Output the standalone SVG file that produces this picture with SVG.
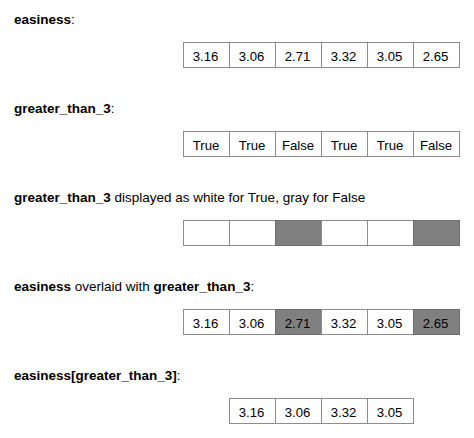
<svg xmlns="http://www.w3.org/2000/svg" width="474" height="438" viewBox="0 0 474 438">
<style>
text{font-family:"Liberation Sans",Arial,sans-serif;font-size:13.5px;fill:#000}
.b{font-weight:bold}
.c{fill:#fff;stroke:#8c8c8c;stroke-width:1}
.g{fill:#808080;stroke:#6e6e6e;stroke-width:1}
.v{text-anchor:middle;font-size:13.2px}
</style>
<rect width="474" height="438" fill="#fff"/>
<g id="label1"><text x="14" y="24"><tspan class="b">easiness</tspan>:</text></g>
<g id="row1">
<rect class="c" x="183.5" y="42.5" width="46" height="25"/>
<rect class="c" x="229.5" y="42.5" width="46" height="25"/>
<rect class="c" x="275.5" y="42.5" width="46" height="25"/>
<rect class="c" x="321.5" y="42.5" width="46" height="25"/>
<rect class="c" x="367.5" y="42.5" width="46" height="25"/>
<rect class="c" x="413.5" y="42.5" width="46" height="25"/>
<text class="v" x="205.5" y="61">3.16</text>
<text class="v" x="251.5" y="61">3.06</text>
<text class="v" x="297.5" y="61">2.71</text>
<text class="v" x="343.5" y="61">3.32</text>
<text class="v" x="389.5" y="61">3.05</text>
<text class="v" x="435.5" y="61">2.65</text>
</g>
<g id="label2"><text x="14" y="113"><tspan class="b">greater_than_3</tspan>:</text></g>
<g id="row2">
<rect class="c" x="183.5" y="131.5" width="46" height="25"/>
<rect class="c" x="229.5" y="131.5" width="46" height="25"/>
<rect class="c" x="275.5" y="131.5" width="46" height="25"/>
<rect class="c" x="321.5" y="131.5" width="46" height="25"/>
<rect class="c" x="367.5" y="131.5" width="46" height="25"/>
<rect class="c" x="413.5" y="131.5" width="46" height="25"/>
<text class="v" x="206" y="150">True</text>
<text class="v" x="252" y="150">True</text>
<text class="v" x="298" y="150">False</text>
<text class="v" x="344" y="150">True</text>
<text class="v" x="390" y="150">True</text>
<text class="v" x="436" y="150">False</text>
</g>
<g id="label3"><text x="14" y="202"><tspan class="b">greater_than_3</tspan> displayed as white for True, gray for False</text></g>
<g id="row3">
<rect class="c" x="183.5" y="220.5" width="46" height="25"/>
<rect class="c" x="229.5" y="220.5" width="46" height="25"/>
<rect class="g" x="275.5" y="220.5" width="46" height="25"/>
<rect class="c" x="321.5" y="220.5" width="46" height="25"/>
<rect class="c" x="367.5" y="220.5" width="46" height="25"/>
<rect class="g" x="413.5" y="220.5" width="46" height="25"/>
</g>
<g id="label4"><text x="14" y="291"><tspan class="b">easiness</tspan> overlaid with <tspan class="b">greater_than_3</tspan>:</text></g>
<g id="row4">
<rect class="c" x="183.5" y="309.5" width="46" height="25"/>
<rect class="c" x="229.5" y="309.5" width="46" height="25"/>
<rect class="g" x="275.5" y="309.5" width="46" height="25"/>
<rect class="c" x="321.5" y="309.5" width="46" height="25"/>
<rect class="c" x="367.5" y="309.5" width="46" height="25"/>
<rect class="g" x="413.5" y="309.5" width="46" height="25"/>
<text class="v" x="205.5" y="328">3.16</text>
<text class="v" x="251.5" y="328">3.06</text>
<text class="v" x="297.5" y="328">2.71</text>
<text class="v" x="343.5" y="328">3.32</text>
<text class="v" x="389.5" y="328">3.05</text>
<text class="v" x="435.5" y="328">2.65</text>
</g>
<g id="label5"><text x="14" y="380"><tspan class="b">easiness[greater_than_3]</tspan>:</text></g>
<g id="row5">
<rect class="c" x="229.5" y="398.5" width="46" height="25"/>
<rect class="c" x="275.5" y="398.5" width="46" height="25"/>
<rect class="c" x="321.5" y="398.5" width="46" height="25"/>
<rect class="c" x="367.5" y="398.5" width="46" height="25"/>
<text class="v" x="251.5" y="417">3.16</text>
<text class="v" x="297.5" y="417">3.06</text>
<text class="v" x="343.5" y="417">3.32</text>
<text class="v" x="389.5" y="417">3.05</text>
</g>
<g id="connectors"/>
</svg>
